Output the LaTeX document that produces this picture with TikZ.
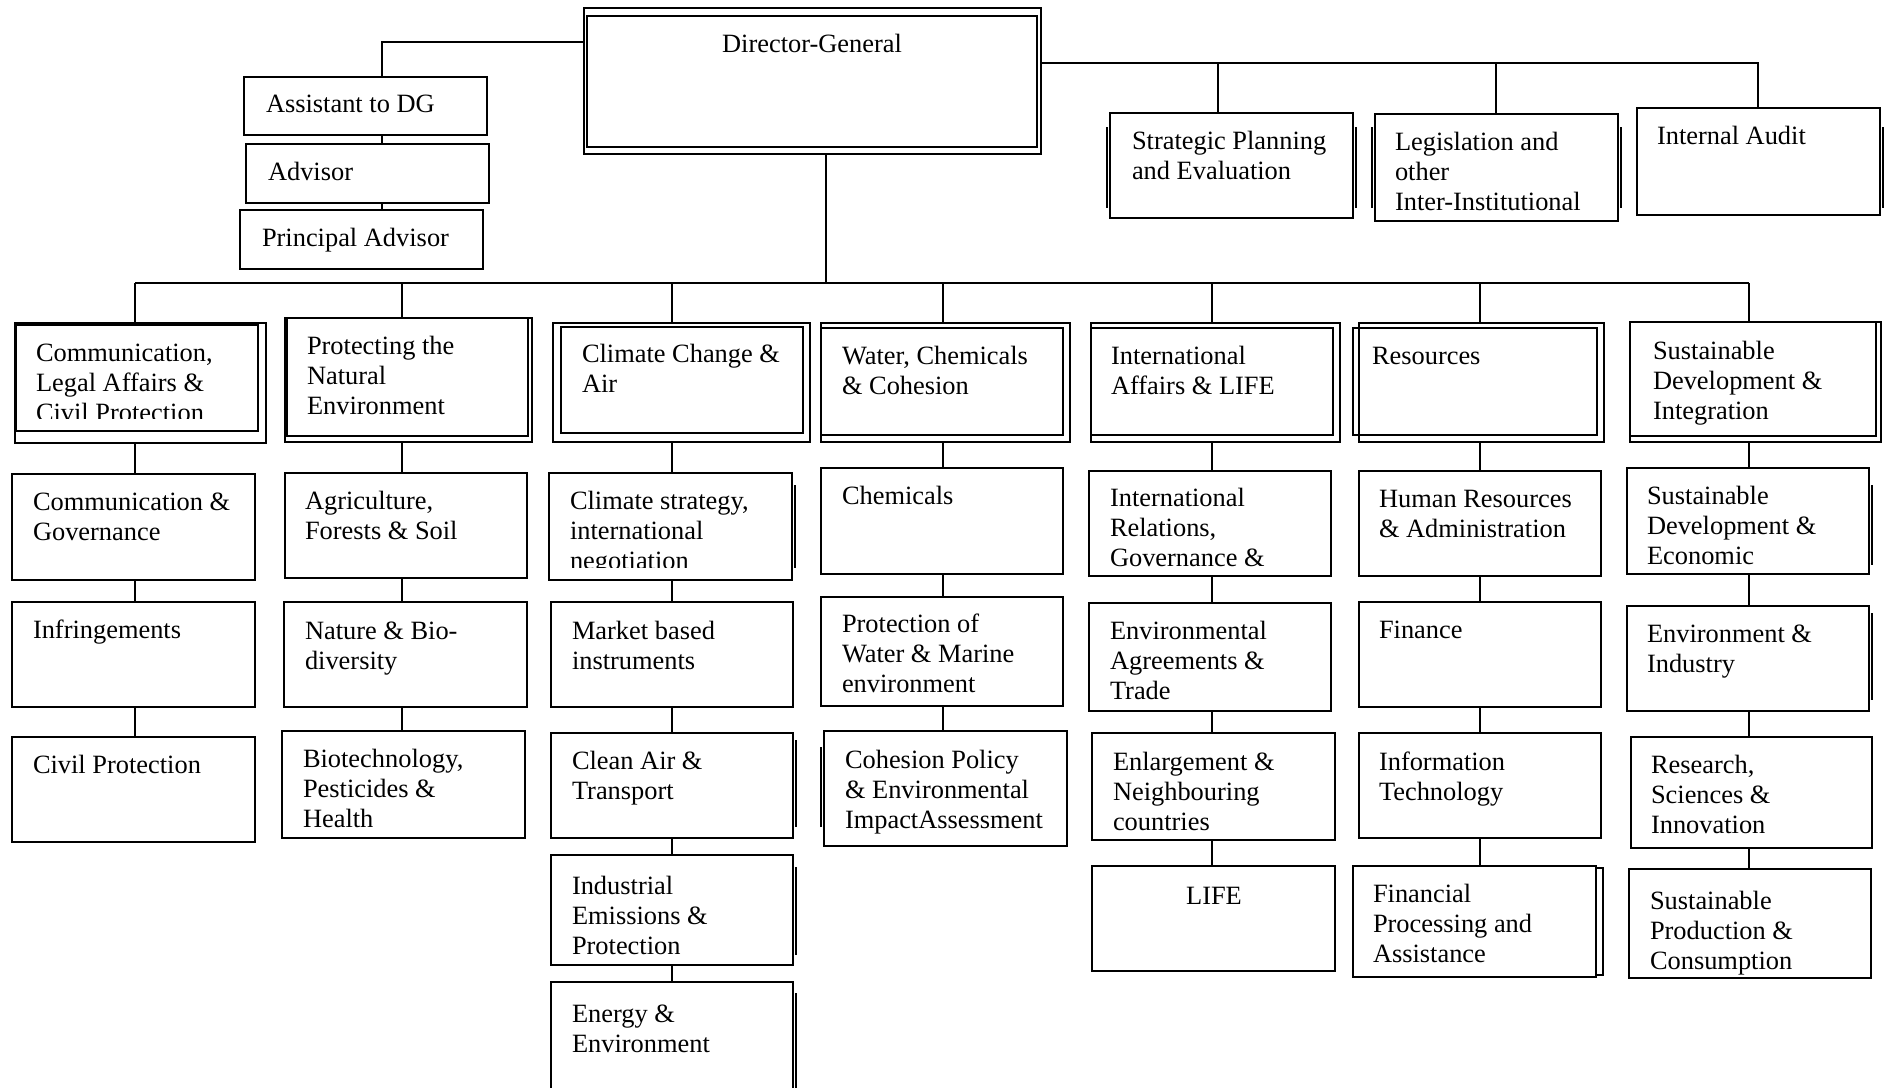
\documentclass[tikz,border=0pt]{standalone}
\usepackage{fontspec}
\setmainfont{Liberation Serif}
\usetikzlibrary{fit}
\newcommand\fst{\rule{0pt}{10pt}}
\begin{document}
\begin{tikzpicture}[x=0.5pt,y=-0.5pt,
  box/.style={draw, line width=1.1pt, inner sep=0pt, outer sep=0pt, rectangle},
  conn/.style={line width=1pt},
  shad/.style={line width=1.4pt},
  txt/.style={anchor=north west, inner sep=0pt, outer sep=0pt, align=left, yshift=10pt, font=\fontsize{13.2}{15.1}\selectfont}]
\fill[white] (0,0) rectangle (1892,1088);
\clip (0,0) rectangle (1892,1088);

% ---------- top level ----------
\node[box, fit={(584,8) (1041,154)}] (dg) {};
\node[box, line width=1.3pt, fit={(587,16) (1037,147)}] (dgi) {};
\node[txt, anchor=north] (dgt) at (812,52) {\fst Director-General};

\node[box, fit={(244,77) (487,135)}] (asst) {};
\node[txt] (asstt) at (266,112) {\fst Assistant to DG};
\node[box, fit={(246,144) (489,203)}] (adv) {};
\node[txt] (advt) at (268,180) {\fst Advisor};
\node[box, fit={(240,210) (483,269)}] (padv) {};
\node[txt] (padvt) at (262,246) {\fst Principal Advisor};

\node[box, fit={(1110,113) (1353,218)}] (strat) {};
\node[txt] (stratt) at (1132,149) {\fst Strategic Planning\\and Evaluation};
\node[box, fit={(1375,114) (1618,221)}] (legis) {};
\node[txt] (legist) at (1395,150) {\fst Legislation and\\other\\Inter-Institutional};
\node[box, fit={(1637,108) (1880,215)}] (audit) {};
\node[txt] (auditt) at (1657,144) {\fst Internal Audit};
\draw[shad] (1107,127) -- (1107,208);
\draw[shad] (1356,127) -- (1356,208);
\draw[shad] (1372,127) -- (1372,208);
\draw[shad] (1621,127) -- (1621,208);
\draw[shad] (1883,127) -- (1883,208);

% connectors top
\coordinate (lb) at (382,42);
\draw[conn] (dg.west |- lb) -| (asst.north -| lb);
\draw[conn] (asst.south -| lb) -- (adv.north -| lb);
\draw[conn] (adv.south -| lb) -- (padv.north -| lb);
\coordinate (ubus) at (0,63);
\coordinate (u1) at (1218,0);
\coordinate (u2) at (1496,0);
\coordinate (u3) at (1758,0);
\draw[conn] (dg.east |- ubus) -- (ubus -| u3) -- (audit.north -| u3);
\draw[conn] (ubus -| u1) -- (strat.north -| u1);
\draw[conn] (ubus -| u2) -- (legis.north -| u2);

% ---------- directorates ----------
\node[box, fit={(15,323) (266,443)}] (h1) {};
\node[box, fit={(16,325) (258,431)}] (h1i) {};
\begin{scope}
\clip (16,325) rectangle (258,418);
\node[txt] (h1t) at (36,361) {\fst Communication,\\Legal Affairs \&\\Civil Protection};
\end{scope}
\node[box, fit={(285,318) (532,442)}] (h2) {};
\node[box, fit={(287,318) (528,436)}] (h2i) {};
\node[txt] (h2t) at (307,354) {\fst Protecting the\\Natural\\Environment};
\node[box, fit={(553,323) (810,442)}] (h3) {};
\node[box, fit={(561,327) (803,433)}] (h3i) {};
\node[txt] (h3t) at (582,362) {\fst Climate Change \&\\Air};
\node[box, fit={(821,323) (1070,442)}] (h4) {};
\node[box, fit={(821,328) (1063,435)}] (h4i) {};
\node[txt] (h4t) at (842,364) {\fst Water, Chemicals\\\& Cohesion};
\node[box, fit={(1091,323) (1340,442)}] (h5) {};
\node[box, fit={(1091,328) (1333,435)}] (h5i) {};
\node[txt] (h5t) at (1111,364) {\fst International\\Affairs \& LIFE};
\node[box, fit={(1359,323) (1604,442)}] (h6) {};
\node[box, fit={(1353,328) (1597,435)}] (h6i) {};
\node[txt] (h6t) at (1372,364) {\fst Resources};
\node[box, fit={(1630,322) (1881,442)}] (h7) {};
\node[box, fit={(1630,322) (1876,436)}] (h7i) {};
\node[txt] (h7t) at (1653,359) {\fst Sustainable\\Development \&\\Integration};

% ---------- units ----------
% column 1
\node[box, fit={(12,474) (255,580)}] (s11) {};
\node[txt] (s11t) at (33,510) {\fst Communication \&\\Governance};
\node[box, fit={(12,602) (255,707)}] (s12) {};
\node[txt] (s12t) at (33,638) {\fst Infringements};
\node[box, fit={(12,737) (255,842)}] (s13) {};
\node[txt] (s13t) at (33,773) {\fst Civil Protection};
% column 2
\node[box, fit={(285,473) (527,578)}] (s21) {};
\node[txt] (s21t) at (305,509) {\fst Agriculture,\\Forests \& Soil};
\node[box, fit={(284,602) (527,707)}] (s22) {};
\node[txt] (s22t) at (305,639) {\fst Nature \& Bio-\\diversity};
\node[box, fit={(282,731) (525,838)}] (s23) {};
\node[txt] (s23t) at (303,767) {\fst Biotechnology,\\Pesticides \&\\Health};
% column 3
\node[box, fit={(549,473) (792,580)}] (s31) {};
\begin{scope}
\clip (549,473) rectangle (792,567);
\node[txt] (s31t) at (570,509) {\fst Climate strategy,\\international\\negotiation};
\end{scope}
\draw[shad] (795,485) -- (795,568);
\node[box, fit={(551,602) (793,707)}] (s32) {};
\node[txt] (s32t) at (572,639) {\fst Market based\\instruments};
\node[box, fit={(551,733) (793,838)}] (s33) {};
\node[txt] (s33t) at (572,769) {\fst Clean Air \&\\Transport};
\draw[shad] (796,740) -- (796,827);
\node[box, fit={(551,855) (793,965)}] (s34) {};
\node[txt] (s34t) at (572,894) {\fst Industrial\\Emissions \&\\Protection};
\draw[shad] (796,867) -- (796,955);
\node[box, fit={(551,982) (793,1110)}] (s35) {};
\node[txt] (s35t) at (572,1022) {\fst Energy \&\\Environment};
\draw[shad] (796,993) -- (796,1095);
% column 4
\node[box, fit={(821,468) (1063,574)}] (s41) {};
\node[txt] (s41t) at (842,504) {\fst Chemicals};
\node[box, fit={(821,597) (1063,706)}] (s42) {};
\node[txt] (s42t) at (842,632) {\fst Protection of\\Water \& Marine\\environment};
\node[box, fit={(824,731) (1067,846)}] (s43) {};
\node[txt] (s43t) at (845,768) {\fst Cohesion Policy\\\& Environmental\\ImpactAssessment};
\draw[shad] (821,747) -- (821,827);
% column 5
\node[box, fit={(1089,471) (1331,576)}] (s51) {};
\node[txt] (s51t) at (1110,506) {\fst International\\Relations,\\Governance \&};
\node[box, fit={(1089,603) (1331,711)}] (s52) {};
\node[txt] (s52t) at (1110,639) {\fst Environmental\\Agreements \&\\Trade};
\node[box, fit={(1092,733) (1335,840)}] (s53) {};
\node[txt] (s53t) at (1113,770) {\fst Enlargement \&\\Neighbouring\\countries};
\node[box, fit={(1092,866) (1335,971)}] (s54) {};
\node[txt, anchor=north] (s54t) at (1214,904) {\fst LIFE};
% column 6
\node[box, fit={(1359,471) (1601,576)}] (s61) {};
\node[txt] (s61t) at (1379,507) {\fst Human Resources\\\& Administration};
\node[box, fit={(1359,602) (1601,707)}] (s62) {};
\node[txt] (s62t) at (1379,638) {\fst Finance};
\node[box, fit={(1359,733) (1601,838)}] (s63) {};
\node[txt] (s63t) at (1379,770) {\fst Information\\Technology};
\node[box, fit={(1353,866) (1596,977)}] (s64) {};
\node[txt] (s64t) at (1373,902) {\fst Financial\\Processing and\\Assistance};
\draw[line width=1pt] (1596,868) -- (1603,868) -- (1603,975) -- (1596,975);
% column 7
\node[box, fit={(1627,468) (1869,574)}] (s71) {};
\node[txt] (s71t) at (1647,504) {\fst Sustainable\\Development \&\\Economic};
\draw[shad] (1872,485) -- (1872,565);
\node[box, fit={(1627,606) (1869,711)}] (s72) {};
\node[txt] (s72t) at (1647,642) {\fst Environment \&\\Industry};
\draw[shad] (1872,613) -- (1872,700);
\node[box, fit={(1631,737) (1872,848)}] (s73) {};
\node[txt] (s73t) at (1651,773) {\fst Research,\\Sciences \&\\Innovation};
\node[box, fit={(1629,869) (1871,978)}] (s74) {};
\node[txt] (s74t) at (1650,909) {\fst Sustainable\\Production \&\\Consumption};

% ---------- main connectors ----------
\coordinate (bus) at (0,283);
\coordinate (dgx) at (826,0);
\coordinate (c1) at (135,0);
\coordinate (c2) at (402,0);
\coordinate (c3) at (672,0);
\coordinate (c4) at (943,0);
\coordinate (c5) at (1212,0);
\coordinate (c6) at (1480,0);
\coordinate (c7) at (1749,0);
\draw[conn] (dg.south -| dgx) -- (bus -| dgx);
\draw[conn] (bus -| c1) -- (bus -| c7);
\foreach \c/\h in {c1/h1,c2/h2,c3/h3,c4/h4,c5/h5,c6/h6,c7/h7}
  \draw[conn] (bus -| \c) -- (\h.north -| \c);
\foreach \c/\a/\b in {c1/h1/s11,c1/s11/s12,c1/s12/s13,
  c2/h2/s21,c2/s21/s22,c2/s22/s23,
  c3/h3/s31,c3/s31/s32,c3/s32/s33,c3/s33/s34,c3/s34/s35,
  c4/h4/s41,c4/s41/s42,c4/s42/s43,
  c5/h5/s51,c5/s51/s52,c5/s52/s53,c5/s53/s54,
  c6/h6/s61,c6/s61/s62,c6/s62/s63,c6/s63/s64,
  c7/h7/s71,c7/s71/s72,c7/s72/s73,c7/s73/s74}
  \draw[conn] (\a.south -| \c) -- (\b.north -| \c);
\end{tikzpicture}
\end{document}
